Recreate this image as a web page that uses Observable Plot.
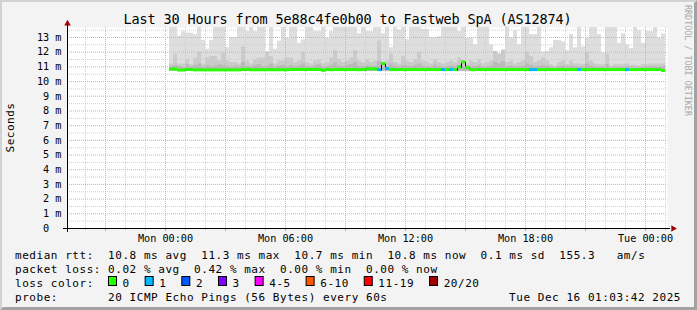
<!DOCTYPE html>
<html><head><meta charset="utf-8">
<script src="https://cdn.jsdelivr.net/npm/d3@7"></script>
<script src="https://cdn.jsdelivr.net/npm/@observablehq/plot@0.6"></script>
<style>
html,body{margin:0;padding:0;background:#f3f3f3;}
#chart{width:697px;height:310px;overflow:hidden;position:relative;}
#chart svg{display:block}
#wm{position:absolute;left:683px;top:5px;writing-mode:vertical-rl;font-family:'DejaVu Sans Mono',monospace;font-size:8.4px;line-height:10px;color:#a8a8a8;white-space:nowrap;}
</style></head><body><div id="chart"><div id="wm"></div></div>
<script>
const T = 14; // smoke extends beyond the top of the graph
// 12-minute bins starting Mon Dec 15 2025 00:12
const smokeLight = [
T,T,13.1,13.4,13.3,13.3,13.2,T,12.8,12.2,
12.8,T,T,T,12.3,13.0,13.0,T,T,13.4,
T,13.4,T,T,12.0,T,12.2,12.75,T,12.95,
T,T,12.6,12.85,T,T,13.4,13.4,T,12.95,
13.4,T,T,T,T,T,T,13.25,T,13.4,
13.4,T,T,13.25,T,12.3,T,13.5,T,12.85,
T,T,T,13.55,13.55,13.0,13.0,13.05,T,T,
T,T,13.4,T,12.95,12.95,12.5,T,T,T,
12.5,11.9,11.9,12.05,T,12.95,13.45,12.5,T,T,
13.2,13.2,T,12.0,12.05,12.3,12.8,12.8,12.7,12.1,
13.2,12.3,T,12.35,12.95,T,T,13.2,11.95,T,
T,T,12.6,13.25,12.5,12.25,T,13.45,12.6,13.4,
13.4,T,12.95,13.25];
const smokeMid = [
11.2,11.85,11.2,11.2,11.5,11.15,11.6,12.0,11.2,11.6,
11.7,11.7,11.4,11.9,11.4,11.3,11.3,11.2,12.35,11.4,
11.2,11.5,11.6,11.6,12.0,11.7,11.2,11.4,11.4,11.6,
11.6,11.3,11.4,11.95,11.3,11.2,11.4,11.5,11.2,11.3,
11.6,12.1,11.5,11.3,11.4,11.6,12.1,11.4,11.3,11.5,
11.3,11.4,12.75,11.2,11.4,11.85,11.3,11.2,11.7,11.4,
11.3,11.5,11.95,11.4,11.3,11.2,11.5,11.3,11.2,11.3,
11.4,11.3,11.6,11.3,11.2,11.4,11.3,11.5,11.2,11.3,
11.4,12.05,11.85,12.15,11.3,11.4,11.2,11.3,11.4,11.95,
11.7,11.3,11.4,11.6,11.4,11.15,11.05,11.3,11.4,11.15,
11.4,11.2,11.2,11.15,11.95,11.4,11.2,11.15,11.15,11.85,
11.05,11.15,11.15,11.15,11.2,11.1,11.1,11.05,11.15,11.15,
11.2,11.2,11.2,11.2];
const smokeDark = [
11.0,11.1,11.05,10.95,11.15,11.0,11.1,11.2,11.0,11.1,
11.0,11.05,11.15,11.1,11.0,10.95,11.05,11.0,11.3,11.05,
10.95,11.1,11.15,11.0,11.05,11.2,10.95,11.05,11.1,11.0,
11.1,11.0,11.05,11.2,11.0,10.95,11.1,11.15,10.95,11.0,
11.1,11.25,11.05,11.0,11.1,11.15,11.3,11.05,11.0,11.1,
11.0,11.05,11.35,10.95,11.0,11.2,11.05,10.95,11.1,11.05,
11.0,11.1,11.2,11.05,11.0,10.95,11.1,11.0,10.95,11.0,
11.05,11.0,11.1,11.0,10.95,11.05,11.0,11.1,10.95,11.0,
11.05,11.3,11.2,11.35,11.0,11.05,10.95,11.0,11.05,11.2,
11.1,11.0,11.05,11.1,11.05,10.95,10.9,11.0,11.05,10.95,
11.05,11.0,10.95,10.95,11.2,11.05,10.95,10.95,10.95,11.15,
10.9,10.95,10.95,10.95,11.0,10.9,10.9,10.9,10.95,10.95,
11.0,11.0,10.95,11.0];
const medianRtt = [
10.82,10.82,10.75,10.75,10.79,10.79,10.76,10.76,10.76,10.76,
10.76,10.76,10.76,10.76,10.76,10.76,10.76,10.76,10.8,10.8,
10.77,10.77,10.77,10.77,10.77,10.77,10.77,10.77,10.77,10.77,
10.79,10.79,10.79,10.79,10.79,10.79,10.79,10.79,10.74,10.78,
10.78,10.78,10.78,10.78,10.78,10.78,10.78,10.78,10.78,10.84,
10.84,10.82,10.78,11.2,10.86,10.78,10.78,10.78,10.78,10.78,
10.78,10.78,10.78,10.78,10.78,10.78,10.78,10.78,10.78,10.78,
10.78,10.78,10.96,11.31,10.92,10.78,10.78,10.78,10.78,10.78,
10.78,10.78,10.78,10.78,10.78,10.78,10.78,10.78,10.78,10.78,
10.78,10.78,10.78,10.78,10.78,10.78,10.78,10.78,10.78,10.78,
10.78,10.78,10.78,10.78,10.78,10.78,10.78,10.78,10.78,10.78,
10.78,10.78,10.78,10.78,10.78,10.78,10.78,10.78,10.78,10.78,
10.78,10.78,10.78,10.72];
const lossCount = [
0,0,0,0,0,0,0,0,0,0, 0,0,0,0,0,0,0,0,0,0,
0,0,0,0,0,0,0,0,0,0, 0,0,0,0,0,0,0,0,0,0,
0,0,0,0,0,0,0,0,0,0, 0,0,1,0,1,0,0,0,0,0,
0,0,0,0,0,0,0,0,1,0, 1,0,0,0,0,0,0,0,0,0,
0,0,0,0,0,0,0,0,0,0, 1,1,0,0,0,0,0,0,0,0,
0,0,1,0,0,0,0,0,0,0, 0,0,0,0,1,0,0,0,0,0,
0,0,0,0];
const smokeLow = 10.7;

const lossLabels = ["0","1","2","3","4-5","6-10","11-19","20/20"];
const lossColors = ["#26ff00","#00b8ff","#0059ff","#7e00ff","#ff00ff","#ff5500","#ff0000","#a10000"];
const yTickValues = [0,1,2,3,4,5,6,7,8,9,10,11,12,13];
const xTickDates = [new Date(Date.UTC(2025,11,15,0)), new Date(Date.UTC(2025,11,15,6)), new Date(Date.UTC(2025,11,15,12)), new Date(Date.UTC(2025,11,15,18)), new Date(Date.UTC(2025,11,16,0))];
const titleText = "Last 30 Hours from 5e88c4fe0b00 to Fastweb SpA (AS12874)";
const rttStats = ["10.8 ms avg","11.3 ms max","10.7 ms min","10.8 ms now","0.1 ms sd","155.3   am/s"];
const lossStats = ["0.02 % avg","0.42 % max","0.00 % min","0.00 % now"];
const probeText = "20 ICMP Echo Pings (56 Bytes) every 60s";
const stampText = "Tue Dec 16 01:03:42 2025";
const watermark = "RRDTOOL / TOBI OETIKER";

const MIN = 60000;
const start = new Date(Date.UTC(2025,11,14,19,6));
const end = new Date(Date.UTC(2025,11,16,1,6));
const binStart = Date.UTC(2025,11,15,0,12);
const bins = smokeLight.map((v,i)=>({
  t0: new Date(binStart + i*12*MIN), t1: new Date(binStart + (i+1)*12*MIN),
  light: v, mid: smokeMid[i], dark: smokeDark[i], median: medianRtt[i], loss: lossCount[i]
}));
const hours = d3.utcHour.range(start, end);
const majorX = hours.filter(d => d.getUTCHours() % 3 === 0);
const minorX = hours.filter(d => d.getUTCHours() % 3 !== 0);
const majorY = d3.range(1, 14);
const minorY = d3.range(0.5, 13.6, 1);
const ymax = 13.68;
const minorCol = "#cfcfcf", majorCol = "#f2a0a0";

const svg = Plot.plot({
  width: 697, height: 310,
  marginLeft: 67, marginRight: 30, marginTop: 27, marginBottom: 82,
  x: {type: "utc", domain: [start, end]},
  y: {domain: [0, ymax]},
  color: {type: "identity"},
  style: {fontFamily: "'DejaVu Sans Mono', monospace", fontSize: "10.2px", background: "#f3f3f3", color: "black", overflow: "visible"},
  marks: [
    Plot.frame({fill: "white", stroke: "none"}),
    Plot.rect(bins, {x1: "t0", x2: "t1", y1: smokeLow, y2: "light", fill: "#dedede", clip: true}),
    Plot.rect(bins, {x1: "t0", x2: "t1", y1: smokeLow, y2: "mid", fill: "#cbcbcb", clip: true}),
    Plot.rect(bins, {x1: "t0", x2: "t1", y1: smokeLow, y2: "dark", fill: "#b9b9b9", clip: true}),
    Plot.ruleX(minorX, {stroke: minorCol, strokeDasharray: "1,1"}),
    Plot.ruleY(minorY, {stroke: minorCol, strokeDasharray: "1,1"}),
    Plot.ruleX(majorX, {stroke: majorCol, strokeDasharray: "1,1"}),
    Plot.ruleY(majorY, {stroke: majorCol, strokeDasharray: "1,1"}),
    Plot.ruleX(minorX, {y1: 0, y2: -0.15, stroke: "#bbbbbb"}),
    Plot.ruleX(majorX, {y1: 0, y2: -0.2, stroke: "#f08080"}),
    Plot.line(bins, {x: "t0", y: "median", curve: "step-after", stroke: "black", strokeWidth: 1}),
    Plot.rect(bins, {x1: "t0", x2: "t1", y1: d => d.median - 0.1, y2: d => d.median + 0.1, fill: d => lossColors[d.loss]}),
    Plot.ruleY([0], {x1: new Date(+start - 12*MIN), x2: new Date(+end + 9*MIN), stroke: "black"}),
    Plot.ruleX([start], {y1: -0.27, y2: 13.9, stroke: "black"}),
    Plot.dot([start], {x: d => d, y: 13.95, symbol: "triangle", r: 2.4, fill: "#a00000", stroke: "none"}),
    Plot.dot([end], {x: d => new Date(+d + 17*MIN), y: 0, symbol: "triangle", r: 2.4, fill: "#a00000", stroke: "none", rotate: 90}),
    Plot.axisY({ticks: yTickValues, tickSize: 0, tickPadding: 6, tickFormat: d => d === 0 ? "0\u00a0\u00a0" : d + " m", label: null}),
    Plot.axisX({ticks: xTickDates, tickSize: 0, tickPadding: 6, tickFormat: d3.utcFormat("%a %H:%M"), label: null})
  ]
});
document.getElementById("chart").insertBefore(svg, document.getElementById("wm"));
document.getElementById("wm").textContent = watermark;

const s = d3.select(svg);
// 3D frame
s.append("polygon").attr("points", "0,0 697,0 695,2 2,2 2,308 0,310").attr("fill", "#d2d2d2");
s.append("polygon").attr("points", "697,0 697,310 0,310 3,307 694,307 694,3").attr("fill", "#a2a2a2");

const mono = "'DejaVu Sans Mono', monospace";
s.append("text").attr("x", 347.5).attr("y", 23.5).attr("text-anchor", "middle")
  .attr("font-family", mono).attr("font-size", "13.5px").attr("letter-spacing", "-0.13px").attr("fill", "#000").text(titleText);
s.append("text").attr("transform", "translate(14,127.5) rotate(-90)").attr("text-anchor", "middle")
  .attr("font-family", mono).attr("font-size", "11px").attr("letter-spacing", "0.5px").attr("fill", "#000").text("Seconds");

const legendFont = {size: "11px", ls: "0.54px", cw: 7.16};
function row(txt, x, y, anchor) {
  return s.append("text").attr("x", x).attr("y", y).attr("text-anchor", anchor || "start")
    .attr("font-family", mono).attr("font-size", legendFont.size).attr("letter-spacing", legendFont.ls)
    .attr("fill", "#000").attr("xml:space", "preserve").style("white-space", "pre").text(txt);
}
row("median rtt:  " + rttStats.join("  "), 15, 258.5);
row("packet loss: " + lossStats.join("  "), 15, 272.5);
row("loss color:", 15, 286.5);
let bx = 108;
lossLabels.forEach((lab, i) => {
  s.append("rect").attr("x", bx + 0.5).attr("y", 276.5).attr("width", 8).attr("height", 9)
    .attr("fill", lossColors[i]).attr("stroke", "#000");
  row(lab, bx + 14.6, 286.5);
  bx = bx + 14.6 + lab.length * legendFont.cw + 14.9;
});
row("probe:       " + probeText, 15, 300.5);
row(stampText, 681, 300.5, "end");
</script></body></html>
